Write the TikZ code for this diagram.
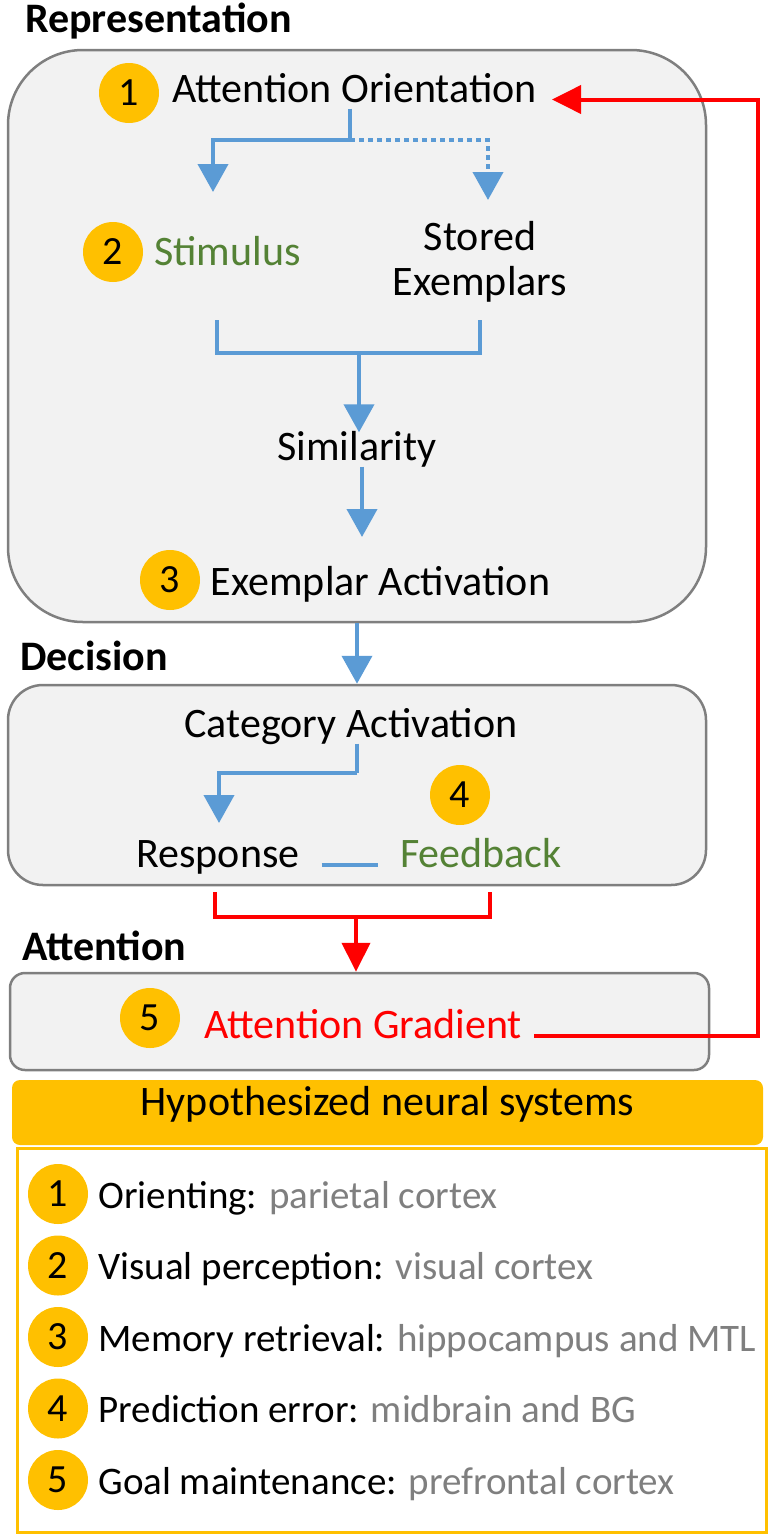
\documentclass[tikz,border=0pt]{standalone}
\usepackage{fontspec}
\setmainfont{Carlito}
\usetikzlibrary{arrows.meta,positioning}
\definecolor{flowblue}{HTML}{5B9BD5}
\definecolor{gold}{HTML}{FFC000}
\definecolor{stimgreen}{HTML}{548235}
\definecolor{paneledge}{HTML}{7F7F7F}
\definecolor{panelfill}{HTML}{F2F2F2}
\definecolor{notegray}{HTML}{7F7F7F}

\begin{document}
\begin{tikzpicture}[%
  x=1pt, y=-1pt,
  font=\fontsize{42}{45}\selectfont,
  txt/.style={inner sep=4pt, text height=0.75em, text depth=0.25em, anchor=base},
  head/.style={txt, anchor=base west, font=\fontsize{42}{45}\selectfont\bfseries},
  num/.style={circle, fill=gold, minimum size=60pt, inner sep=0pt, font=\fontsize{40}{43}\selectfont},
  panel/.style={draw=paneledge, fill=panelfill, line width=2.5pt},
  flow/.style={draw=flowblue, line width=4pt},
  flowarr/.style={flow, -{Triangle[length=28pt,width=30pt]}},
  back/.style={draw=red, line width=4pt},
  backarr/.style={back, -{Triangle[length=29pt,width=28pt]}},
  ]
  \useasboundingbox (0,0) rectangle (771,1537);
  {
    \node[panel, rounded corners=75pt, minimum width=698pt, minimum height=572pt] (rep) at (357,336) {};
    \node[panel, rounded corners=35pt, minimum width=698pt, minimum height=200pt] (dec) at (357,785) {};
    \node[panel, rounded corners=15pt, minimum width=699pt, minimum height=97pt] (att) at (359.5,1021.5) {};
    \node[fill=gold, rounded corners=8pt, minimum width=751pt, minimum height=65pt,
      text height=0.75em, text depth=0.25em] (hdr) at (387.5,1112.5) {Hypothesized neural systems};
    \node[draw=gold, line width=3pt, minimum width=749pt, minimum height=384pt] (legend) at (391.5,1340) {};

    \node[head] (rephead) at (21,32) {Representation};
    \node[head] (dechead) at (16,670) {Decision};
    \node[head] (atthead) at (18,960) {Attention};

    \node[num] (n1) at (129,93) {1};
    \node[num] (n2) at (113,252) {2};
    \node[num] (n3) at (170,580) {3};
    \node[num] (n4) at (460,795) {4};
    \node[num] (n5) at (150,1018) {5};

    \node[txt] (orient) at (354.5,102) {Attention Orientation};
    \node[txt, text=stimgreen] (stim) at (227.5,265) {Stimulus};
    \node[align=center, inner sep=0pt] (stored) at (480,262) {Stored\\Exemplars};
    \node[txt] (sim) at (357,460) {Similarity};
    \node[txt] (exact) at (380.5,595) {Exemplar Activation};
    \node[txt] (cat) at (351,737) {Category Activation};
    \node[txt] (resp) at (218,867) {Response};
    \node[txt, text=stimgreen] (feed) at (481,867) {Feedback};
    \node[txt, text=red] (grad) at (363,1038) {Attention Gradient};

    \coordinate (split) at (350,140);
    \coordinate (tostim) at (213,192);
    \coordinate (tostored) at (488,200);
    \coordinate (brl) at (217,320);
    \coordinate (brr) at (480,320);
    \coordinate (brm) at (359,353);
    \coordinate (toex) at (362,537);
    \coordinate (catsplit) at (357,773);
    \coordinate (toresp) at (219,823);
    \coordinate (rbl) at (215,892);
    \coordinate (rbr) at (490,892);
    \coordinate (rbm) at (356,917);
    \coordinate (loop) at (758,0);

    \draw[flow] (split |- orient.south) -- (split);
    \draw[flowarr] (split) -| (tostim);
    \draw[flowarr, dash pattern=on 5pt off 4pt] (split) -| (tostored);
    \draw[flow] (brl) |- (brm) -| (brr);
    \draw[flowarr, shorten >=16pt] (brm) -- (sim.north -| brm);
    \draw[flowarr] (sim.south -| toex) -- (toex);
    \draw[flowarr] (rep.south) -- (dec.north);
    \draw[flow] (catsplit |- cat.south) -- (catsplit);
    \draw[flowarr] (catsplit) -| (toresp);
    \draw[flow, shorten <=18pt, shorten >=18pt] (resp.east) -- (feed.west);
    \draw[back] (rbl) |- (rbm) -| (rbr);
    \draw[backarr] (rbm) -- (att.north -| rbm);
    \draw[backarr, shorten <=8pt, shorten >=11pt] (grad.east) -| (loop |- orient.east) -- (orient.east);

    \foreach \k/\what/\where in {1/Orienting/parietal cortex, 2/Visual perception/visual cortex,
      3/Memory retrieval/hippocampus and MTL, 4/Prediction error/midbrain and BG,
      5/Goal maintenance/prefrontal cortex}
    {
      \node[num] (c\k) at (58,1122.5+71.5*\k) {\k};
      \node[txt, anchor=base west, font=\fontsize{39}{42}\selectfont] (item\k)
        at ([xshift=6pt,yshift=-14pt]c\k.east) {\what: \textcolor{notegray}{\where}};
    }
  }
\end{tikzpicture}
\end{document}
